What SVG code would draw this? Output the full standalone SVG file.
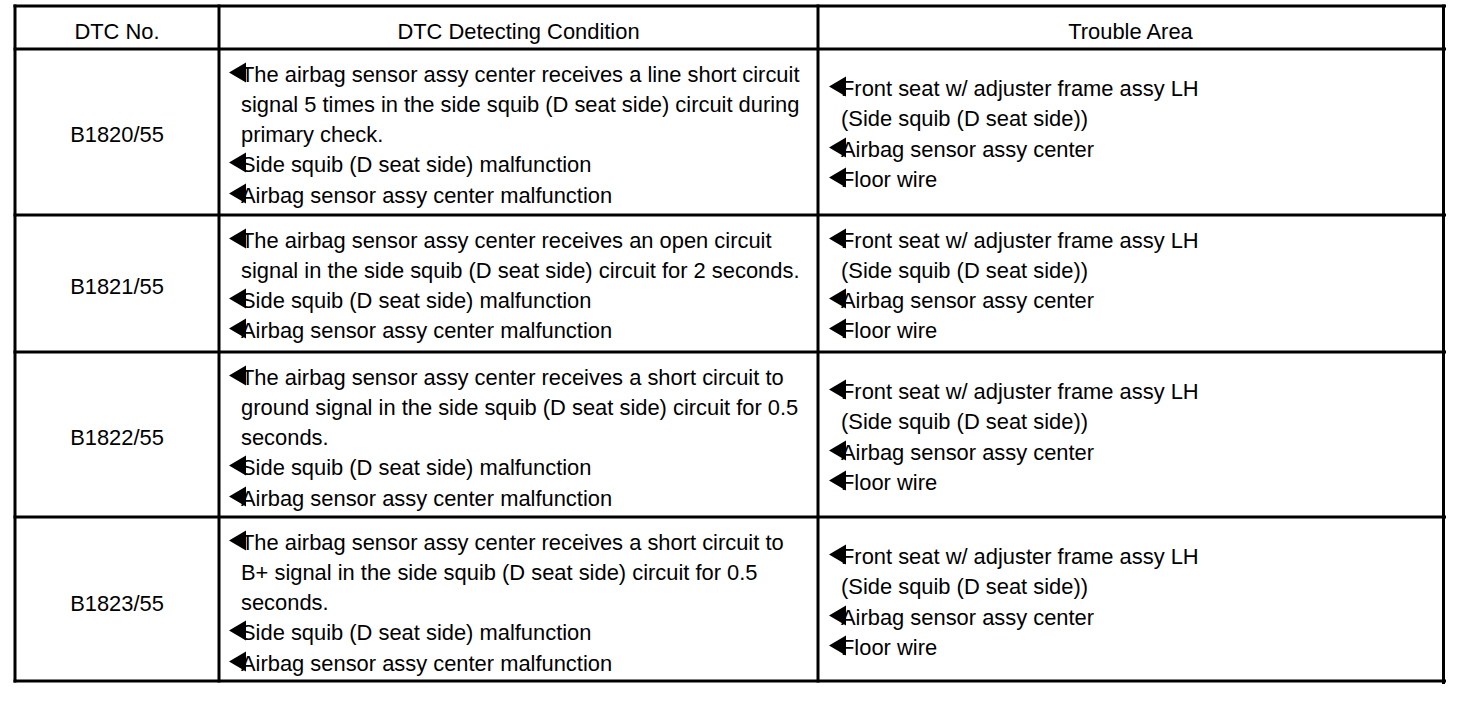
<svg xmlns="http://www.w3.org/2000/svg" xmlns:xlink="http://www.w3.org/1999/xlink" width="1472" height="712" viewBox="0 0 1472 712">
<style>
  text { font-family: "Liberation Sans", Arial, sans-serif; font-size: 21.9px; fill: #000; }
  .c { text-anchor: middle; }
  .grid line { stroke: #000; stroke-width: 3; }
  .b { fill: #000; }
</style>
<defs>
  <polygon id="bullet" points="0,-9.5 17,-19.5 17,0.5"/>
</defs>
<rect x="0" y="0" width="1472" height="712" fill="#fff"/>
<g id="grid" class="grid">
  <line x1="13.5" y1="6" x2="1446" y2="6"/>
  <line x1="13.5" y1="49" x2="1446" y2="49"/>
  <line x1="13.5" y1="215" x2="1446" y2="215"/>
  <line x1="13.5" y1="352" x2="1446" y2="352"/>
  <line x1="13.5" y1="517" x2="1446" y2="517"/>
  <line x1="13.5" y1="681" x2="1446" y2="681"/>
  <line x1="15" y1="4.5" x2="15" y2="682.5"/>
  <line x1="219" y1="4.5" x2="219" y2="682.5"/>
  <line x1="818" y1="4.5" x2="818" y2="682.5"/>
  <line x1="1443.5" y1="4.5" x2="1443.5" y2="684"/>
</g>
<g id="header">
  <text class="c" x="117" y="39">DTC No.</text>
  <text class="c" x="518.5" y="39">DTC Detecting Condition</text>
  <text class="c" x="1130.5" y="39">Trouble Area</text>
</g>
<g id="row-b1820">
  <text class="c" x="117" y="142">B1820/55</text>
  <text x="241" y="82">The airbag sensor assy center receives a line short circuit</text>
  <text x="241" y="112">signal 5 times in the side squib (D seat side) circuit during</text>
  <text x="241" y="142">primary check.</text>
  <text x="241" y="172">Side squib (D seat side) malfunction</text>
  <text x="241" y="203">Airbag sensor assy center malfunction</text>
  <use xlink:href="#bullet" class="b" x="229" y="82"/>
  <use xlink:href="#bullet" class="b" x="229" y="172"/>
  <use xlink:href="#bullet" class="b" x="229" y="203"/>
  <text x="841" y="96">Front seat w/ adjuster frame assy LH</text>
  <text x="841" y="126">(Side squib (D seat side))</text>
  <text x="841" y="157">Airbag sensor assy center</text>
  <text x="841" y="187">Floor wire</text>
  <use xlink:href="#bullet" class="b" x="829" y="96"/>
  <use xlink:href="#bullet" class="b" x="829" y="157"/>
  <use xlink:href="#bullet" class="b" x="829" y="187"/>
</g>
<g id="row-b1821">
  <text class="c" x="117" y="294">B1821/55</text>
  <text x="241" y="248">The airbag sensor assy center receives an open circuit</text>
  <text x="241" y="278">signal in the side squib (D seat side) circuit for 2 seconds.</text>
  <text x="241" y="308">Side squib (D seat side) malfunction</text>
  <text x="241" y="338">Airbag sensor assy center malfunction</text>
  <use xlink:href="#bullet" class="b" x="229" y="248"/>
  <use xlink:href="#bullet" class="b" x="229" y="308"/>
  <use xlink:href="#bullet" class="b" x="229" y="338"/>
  <text x="841" y="248">Front seat w/ adjuster frame assy LH</text>
  <text x="841" y="278">(Side squib (D seat side))</text>
  <text x="841" y="308">Airbag sensor assy center</text>
  <text x="841" y="338">Floor wire</text>
  <use xlink:href="#bullet" class="b" x="829" y="248"/>
  <use xlink:href="#bullet" class="b" x="829" y="308"/>
  <use xlink:href="#bullet" class="b" x="829" y="338"/>
</g>
<g id="row-b1822">
  <text class="c" x="117" y="445">B1822/55</text>
  <text x="241" y="385">The airbag sensor assy center receives a short circuit to</text>
  <text x="241" y="415">ground signal in the side squib (D seat side) circuit for 0.5</text>
  <text x="241" y="445">seconds.</text>
  <text x="241" y="475">Side squib (D seat side) malfunction</text>
  <text x="241" y="506">Airbag sensor assy center malfunction</text>
  <use xlink:href="#bullet" class="b" x="229" y="385"/>
  <use xlink:href="#bullet" class="b" x="229" y="475"/>
  <use xlink:href="#bullet" class="b" x="229" y="506"/>
  <text x="841" y="399">Front seat w/ adjuster frame assy LH</text>
  <text x="841" y="429">(Side squib (D seat side))</text>
  <text x="841" y="460">Airbag sensor assy center</text>
  <text x="841" y="490">Floor wire</text>
  <use xlink:href="#bullet" class="b" x="829" y="399"/>
  <use xlink:href="#bullet" class="b" x="829" y="460"/>
  <use xlink:href="#bullet" class="b" x="829" y="490"/>
</g>
<g id="row-b1823">
  <text class="c" x="117" y="611">B1823/55</text>
  <text x="241" y="550">The airbag sensor assy center receives a short circuit to</text>
  <text x="241" y="580">B+ signal in the side squib (D seat side) circuit for 0.5</text>
  <text x="241" y="610">seconds.</text>
  <text x="241" y="640">Side squib (D seat side) malfunction</text>
  <text x="241" y="671">Airbag sensor assy center malfunction</text>
  <use xlink:href="#bullet" class="b" x="229" y="550"/>
  <use xlink:href="#bullet" class="b" x="229" y="640"/>
  <use xlink:href="#bullet" class="b" x="229" y="671"/>
  <text x="841" y="564">Front seat w/ adjuster frame assy LH</text>
  <text x="841" y="594">(Side squib (D seat side))</text>
  <text x="841" y="625">Airbag sensor assy center</text>
  <text x="841" y="655">Floor wire</text>
  <use xlink:href="#bullet" class="b" x="829" y="564"/>
  <use xlink:href="#bullet" class="b" x="829" y="625"/>
  <use xlink:href="#bullet" class="b" x="829" y="655"/>
</g>
</svg>
